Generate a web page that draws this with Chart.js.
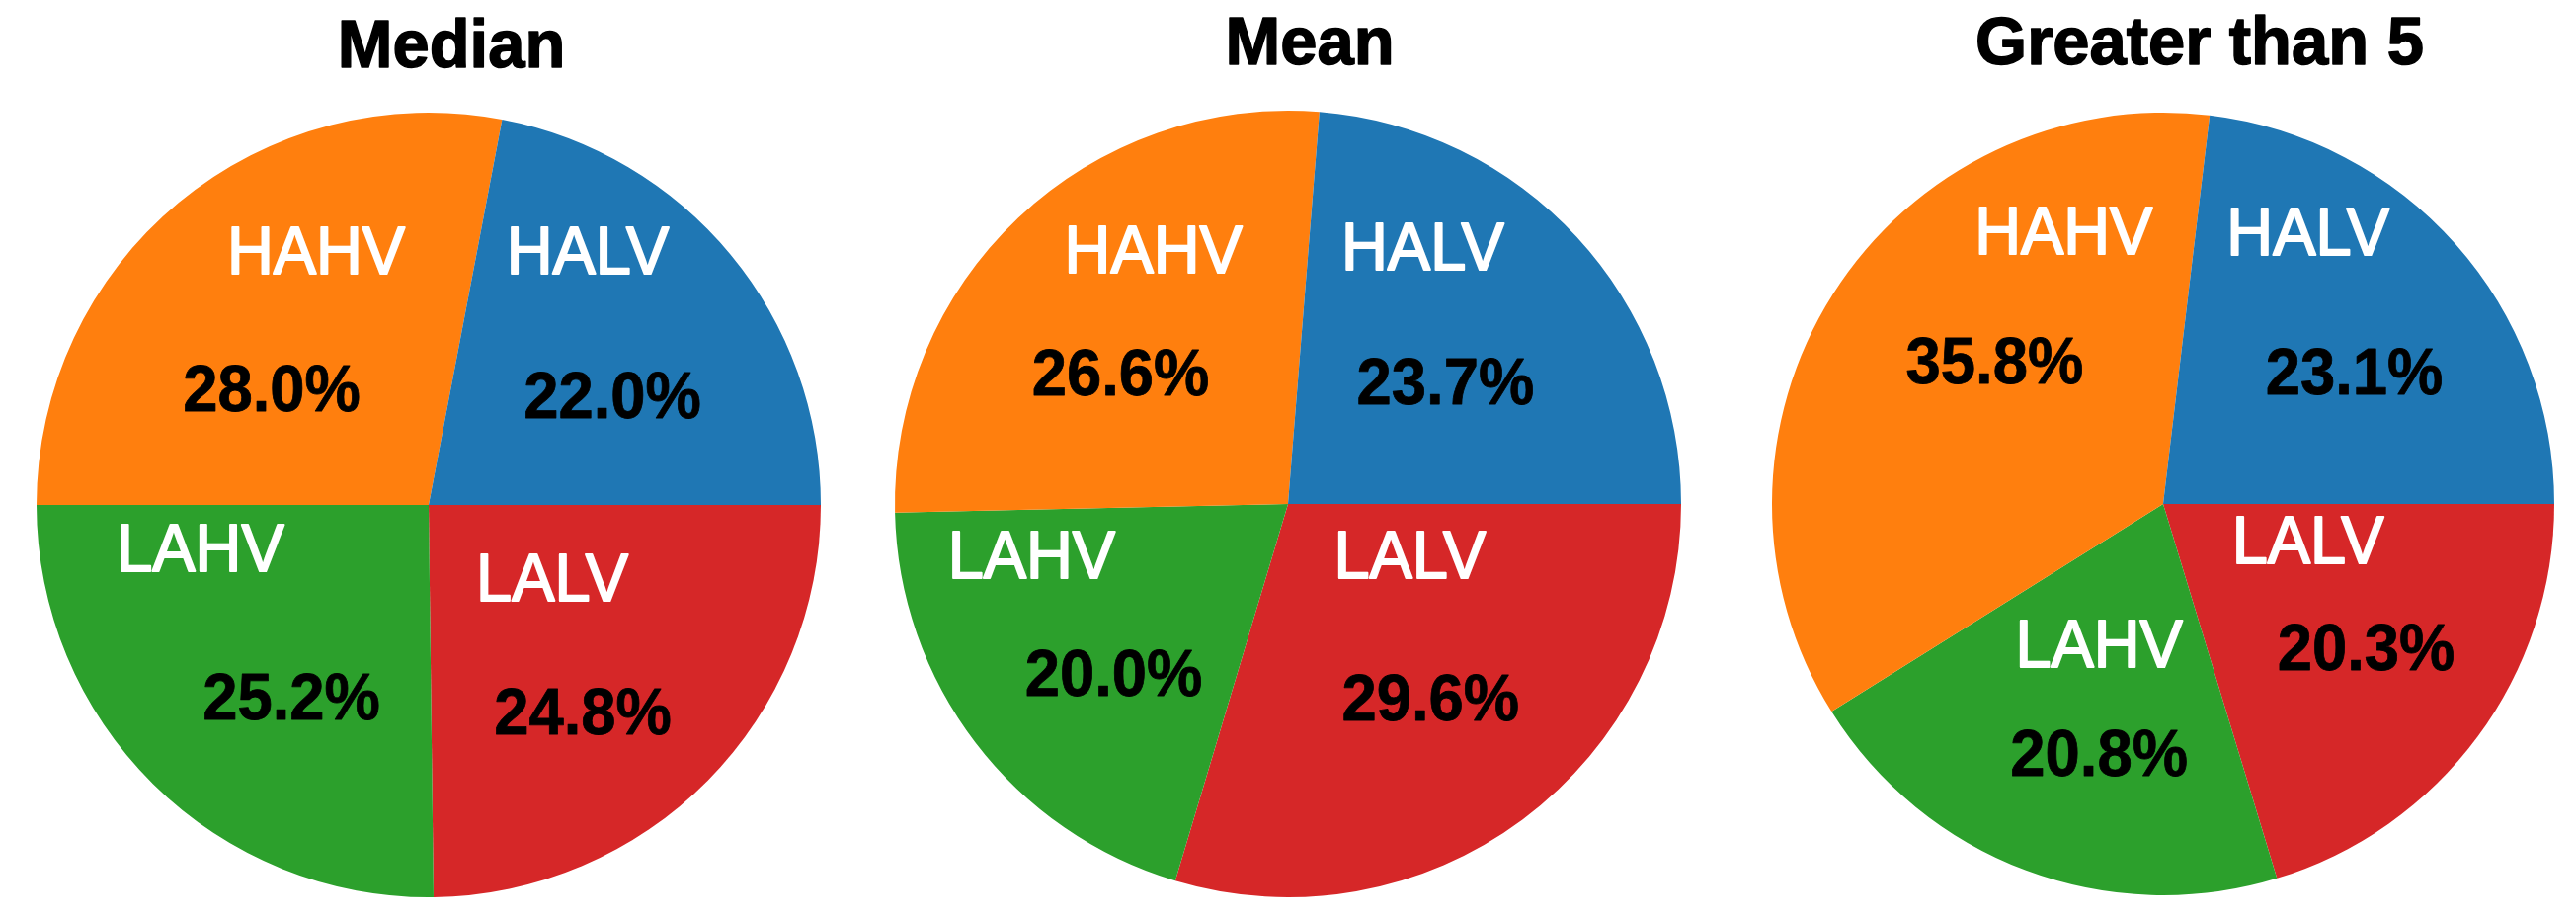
<!DOCTYPE html>
<html>
<head>
<meta charset="utf-8">
<script src="https://cdn.jsdelivr.net/npm/chart.js@4.4.1/dist/chart.umd.min.js"></script>
<style>
  html, body { margin: 0; padding: 0; background: #ffffff; }
  body { width: 2608px; height: 932px; position: relative; overflow: hidden; }
  .pie { position: absolute; top: 0; height: 932px; }
</style>
</head>
<body>
<div class="pie" id="p0"><canvas id="c0"></canvas></div>
<div class="pie" id="p1"><canvas id="c1"></canvas></div>
<div class="pie" id="p2"><canvas id="c2"></canvas></div>
<script>
// ---- data ----
const categories = ['HALV', 'HAHV', 'LAHV', 'LALV'];
const chartTitles = ['Median', 'Mean', 'Greater than 5'];
const medianValues = [22.0, 28.0, 25.2, 24.8];
const meanValues = [23.7, 26.6, 20.0, 29.6];
const greaterThan5Values = [23.1, 35.8, 20.8, 20.3];
const seriesValues = [medianValues, meanValues, greaterThan5Values];

// ---- styles / layout (not data) ----
const sliceColors = { HALV: '#1f77b4', HAHV: '#ff7f0e', LAHV: '#2ca02c', LALV: '#d62728' };
const FONT = '"Liberation Sans", Arial, Helvetica, sans-serif';
const BASE_R = 397;
const pieLayout = [
  { cx: 434,  cy: 511, r: 397, titleX: 457,  titleBase: 68 },
  { cx: 1304, cy: 510, r: 398, titleX: 1326, titleBase: 65 },
  { cx: 2190, cy: 510, r: 396, titleX: 2227, titleBase: 65 }
];
// label offsets from pie centre (px at radius 397): [nameDx, nameDy, pctDx, pctDy]
const labelOffsets = [
  { HALV: [161, -253, 186, -106], HAHV: [-114, -253, -159, -113], LAHV: [-231, 48, -139, 199], LALV: [125, 78, 156, 214] },
  { HALV: [136, -255, 159, -119], HAHV: [-136, -252, -169, -128], LAHV: [-259, 56, -176, 175], LALV: [123, 56, 144, 200] },
  { HALV: [147, -272, 194, -130], HAHV: [-101, -273, -171, -141], LAHV: [-65, 146, -65, 257], LALV: [147, 41, 206, 150] }
];

function drawText(ctx, text, x, y, font, color, scaleX, strokeW) {
  ctx.save();
  ctx.translate(x, y);
  ctx.scale(scaleX, 1);
  ctx.font = font;
  ctx.fillStyle = color;
  ctx.fillText(text, 0, 0);
  if (strokeW > 0) {
    ctx.strokeStyle = color;
    ctx.lineWidth = strokeW;
    ctx.lineJoin = 'round';
    ctx.strokeText(text, 0, 0);
  }
  ctx.restore();
}

const sliceLabelPlugin = {
  id: 'sliceLabels',
  afterDatasetsDraw(chart) {
    const opts = chart.options.plugins.sliceLabels;
    const meta = chart.getDatasetMeta(0);
    const ctx = chart.ctx;
    ctx.save();
    ctx.textAlign = 'center';
    ctx.textBaseline = 'middle';
    meta.data.forEach((arc, i) => {
      const name = chart.data.labels[i];
      const val = chart.data.datasets[0].data[i];
      const off = opts.offsets[name];
      const k = arc.outerRadius / BASE_R;
      drawText(ctx, name, arc.x + off[0] * k, arc.y + off[1] * k,
               'normal 69px ' + FONT, '#ffffff', 0.94, 2);
      drawText(ctx, val.toFixed(1) + '%', arc.x + off[2] * k, arc.y + off[3] * k,
               'bold 66px ' + FONT, '#000000', 0.96, 0.8);
    });
    ctx.restore();
  }
};

const pieTitlePlugin = {
  id: 'pieTitle',
  afterDraw(chart) {
    const o = chart.options.plugins.pieTitle;
    const ctx = chart.ctx;
    ctx.save();
    ctx.textAlign = 'center';
    ctx.textBaseline = 'alphabetic';
    drawText(ctx, o.text, o.x, o.y, 'bold 69px ' + FONT, '#000000', 0.97, 1.5);
    ctx.restore();
  }
};

pieLayout.forEach((L, idx) => {
  const pad = 10;
  const W = 2 * L.r + 2 * pad;
  const left = L.cx - L.r - pad;
  const div = document.getElementById('p' + idx);
  div.style.left = left + 'px';
  div.style.width = W + 'px';
  const canvas = document.getElementById('c' + idx);
  canvas.width = W;
  canvas.height = 932;
  canvas.style.width = W + 'px';
  canvas.style.height = '932px';

  // Chart.js draws clockwise; the reference runs counter-clockwise from 3 o'clock,
  // so feed the categories in reverse order starting at 3 o'clock.
  const order = categories.map((_, i) => i).reverse();
  const labels = order.map(i => categories[i]);
  const values = order.map(i => seriesValues[idx][i]);

  new Chart(canvas, {
    type: 'pie',
    data: {
      labels: labels,
      datasets: [{
        data: values,
        backgroundColor: labels.map(c => sliceColors[c]),
        borderWidth: 0,
        hoverOffset: 0,
        radius: L.r
      }]
    },
    options: {
      responsive: false,
      devicePixelRatio: 1,
      animation: false,
      events: [],
      rotation: 90,
      layout: { padding: { top: L.cy - L.r, bottom: 932 - (L.cy + L.r), left: pad, right: pad } },
      plugins: {
        legend: { display: false },
        tooltip: { enabled: false },
        title: { display: false },
        sliceLabels: { offsets: labelOffsets[idx] },
        pieTitle: { text: chartTitles[idx], x: L.titleX - left, y: L.titleBase }
      }
    },
    plugins: [sliceLabelPlugin, pieTitlePlugin]
  });
});
</script>
</body>
</html>
